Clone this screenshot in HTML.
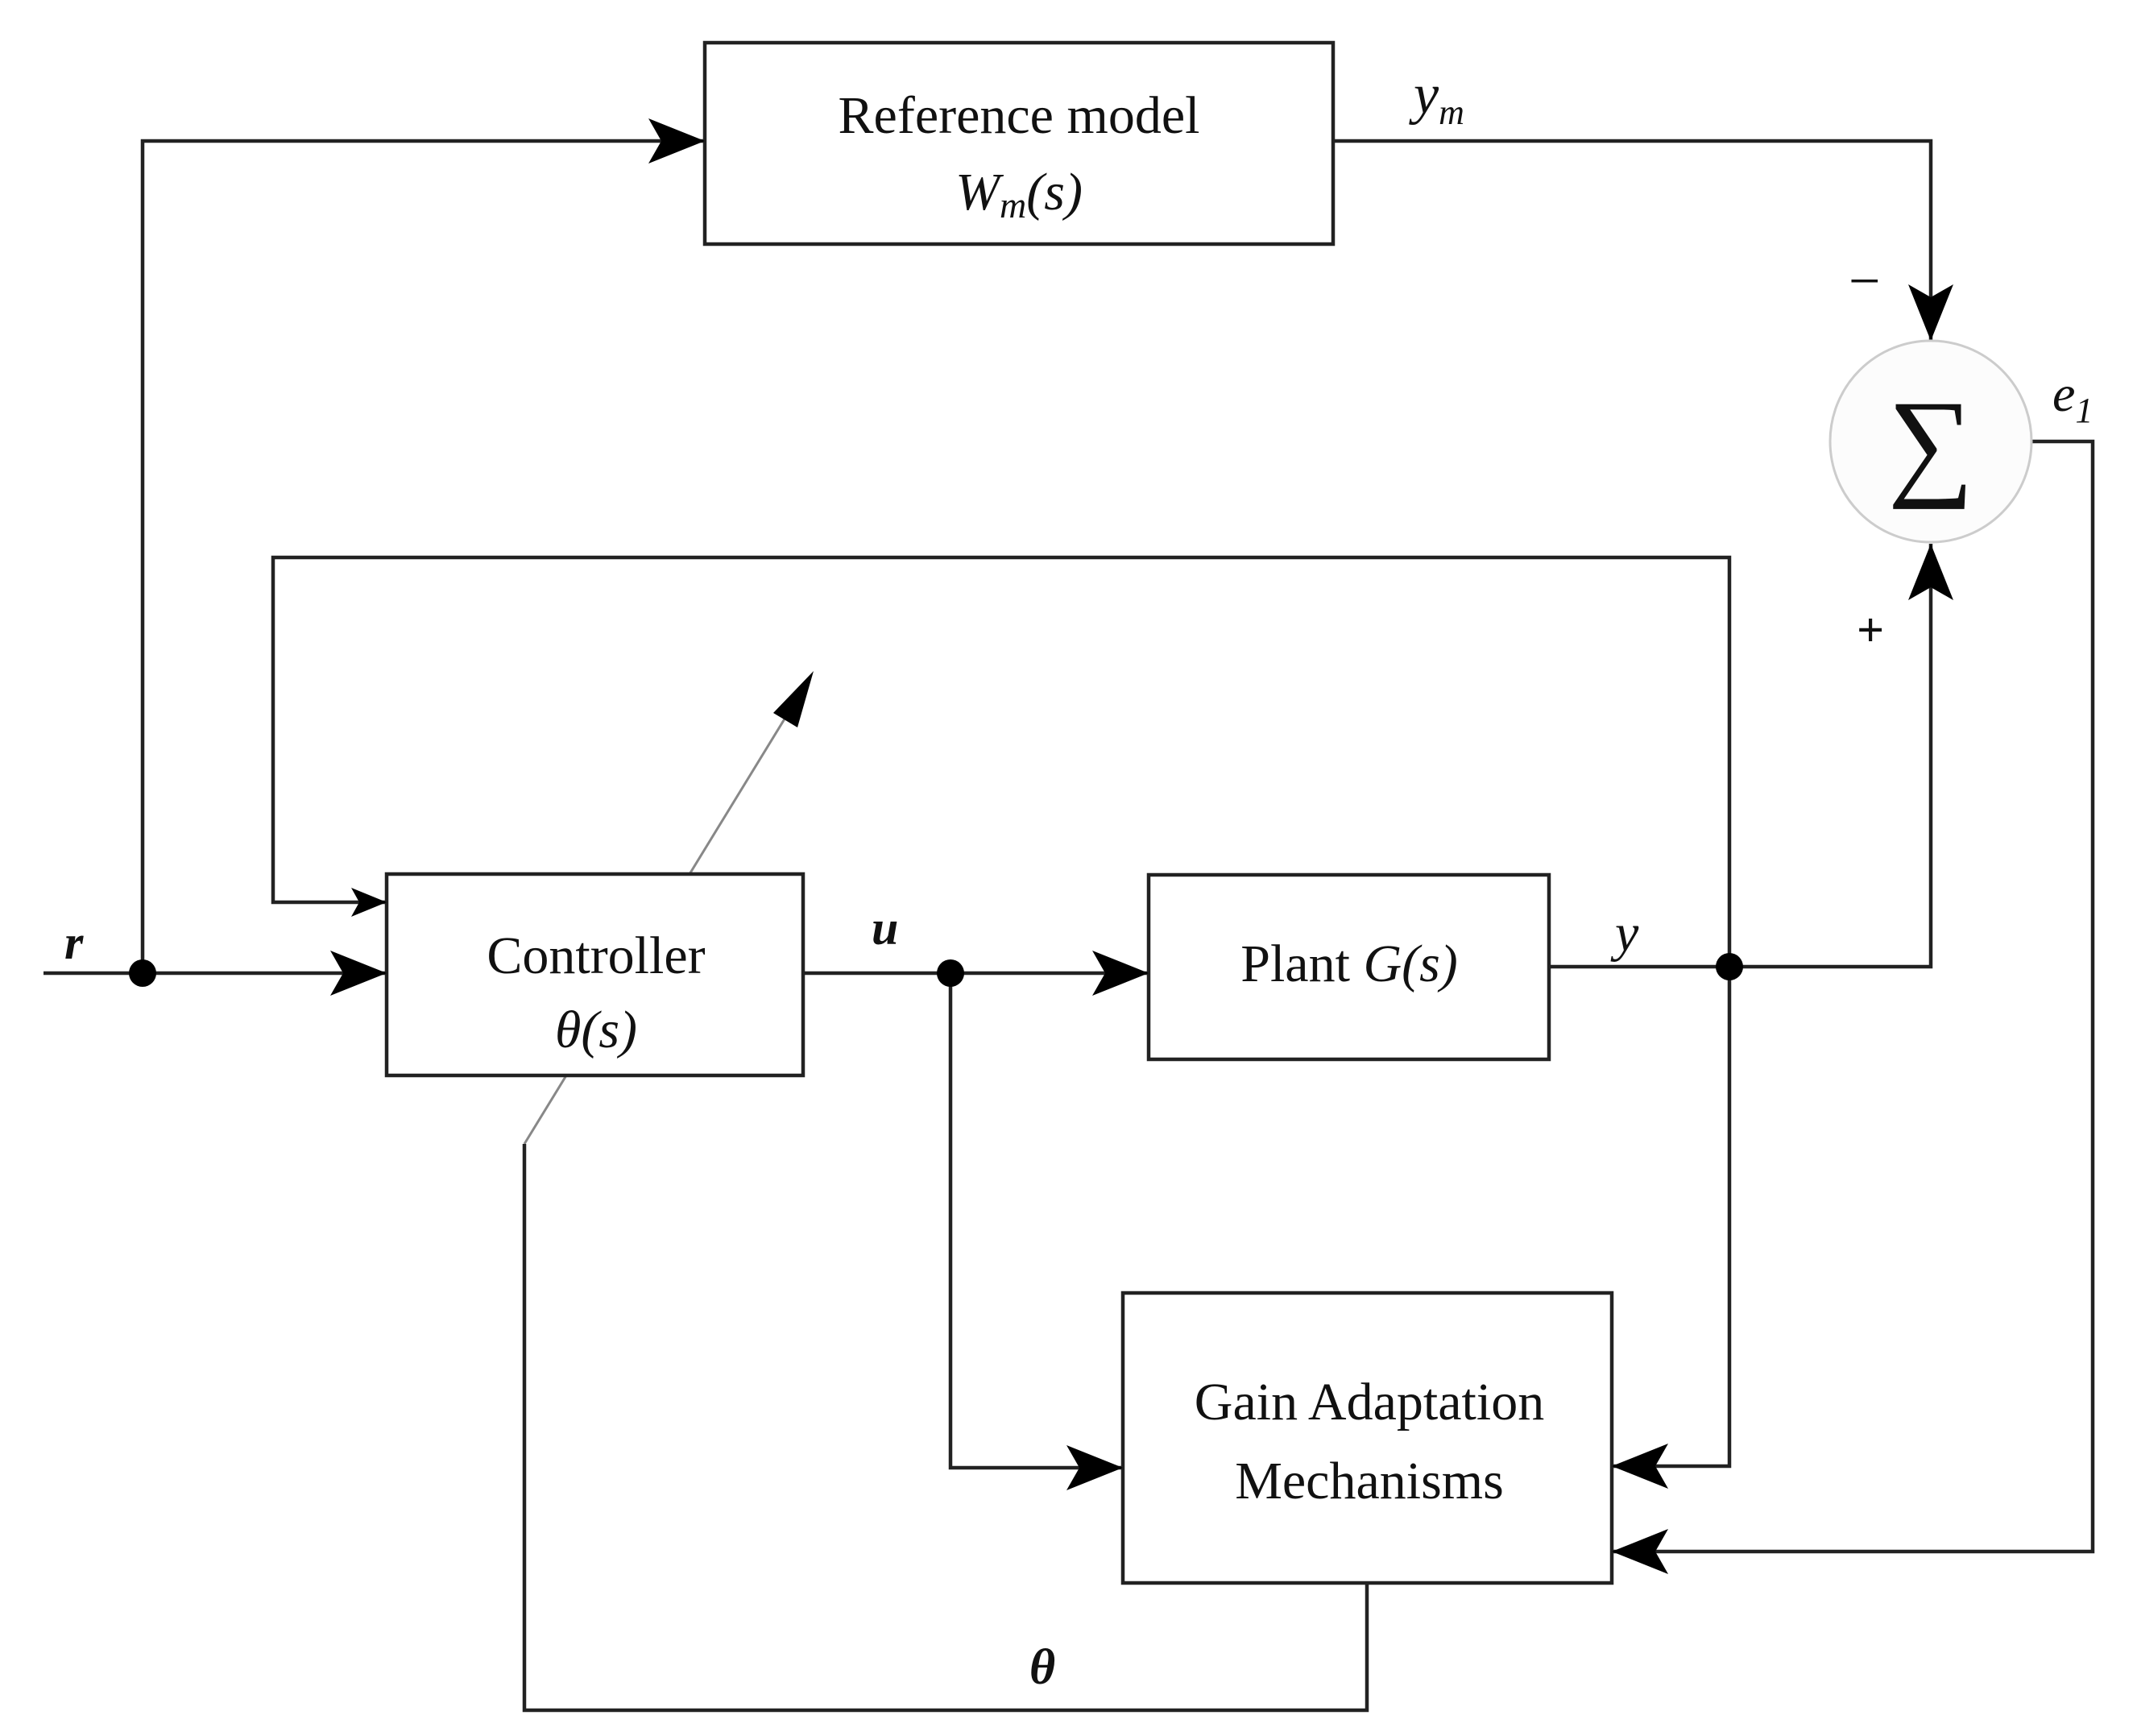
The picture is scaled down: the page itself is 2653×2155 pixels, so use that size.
<!DOCTYPE html>
<html><head><meta charset="utf-8"><style>
html,body{margin:0;padding:0;background:#fff;}
svg{display:block;}
text{font-family:"Liberation Serif",serif;fill:#111;}
</style></head><body>
<svg width="2653" height="2155" viewBox="0 0 2653 2155" xmlns="http://www.w3.org/2000/svg">
<defs>
<marker id="a" markerUnits="userSpaceOnUse" markerWidth="80" markerHeight="60" refX="70" refY="28" orient="auto">
<path d="M0,0 L70,28 L0,56 L16,28 Z" fill="#000"/>
</marker>
<marker id="s" markerUnits="userSpaceOnUse" markerWidth="50" markerHeight="40" refX="44" refY="18" orient="auto">
<path d="M0,0 L44,18 L0,36 L10,18 Z" fill="#000"/>
</marker>
</defs>
<line x1="651" y1="1420" x2="1000" y2="850" stroke="#888" stroke-width="3"/>
<path d="M1010,833 L960,885 L990,903 Z" fill="#000"/>
<g fill="none" stroke="#222" stroke-width="4.5">
<rect x="875" y="53" width="780" height="250" fill="#fff"/>
<rect x="480" y="1085" width="517" height="250" fill="#fff"/>
<rect x="1426" y="1086" width="497" height="229" fill="#fff"/>
<rect x="1394" y="1605" width="607" height="360" fill="#fff"/>
<line x1="54" y1="1208" x2="480" y2="1208" marker-end="url(#a)"/>
<polyline points="177,1208 177,175 875,175" marker-end="url(#a)"/>
<polyline points="1655,175 2397,175 2397,423" marker-end="url(#a)"/>
<polyline points="2147,1200 2147,692 339,692 339,1120 480,1120" marker-end="url(#s)"/>
<line x1="997" y1="1208" x2="1426" y2="1208" marker-end="url(#a)"/>
<polyline points="1180,1208 1180,1822 1394,1822" marker-end="url(#a)"/>
<polyline points="1923,1200 2397,1200 2397,675" marker-end="url(#a)"/>
<polyline points="2147,1200 2147,1820 2001,1820" marker-end="url(#a)"/>
<polyline points="2508,548 2598,548 2598,1926 2001,1926" marker-end="url(#a)"/>
<polyline points="1697,1965 1697,2123 651,2123 651,1420"/>
</g>
<circle cx="2397" cy="548" r="125" fill="#fcfcfc" stroke="#ccc" stroke-width="3"/>
<text x="2397" y="600" font-size="150" text-anchor="middle">∑</text>
<circle cx="177" cy="1208" r="17" fill="#000"/>
<circle cx="1180" cy="1208" r="17" fill="#000"/>
<circle cx="2147" cy="1200" r="17" fill="#000"/>
<text x="1265" y="165" font-size="66" text-anchor="middle">Reference model</text>
<text x="1265" y="260" font-size="66" text-anchor="middle" font-style="italic">W<tspan font-size="46" dy="10">m</tspan><tspan dy="-10">(s)</tspan></text>
<text x="740" y="1208" font-size="66" text-anchor="middle">Controller</text>
<text x="740" y="1300" font-size="66" text-anchor="middle" font-style="italic">θ(s)</text>
<text x="1675" y="1218" font-size="66" text-anchor="middle">Plant <tspan font-style="italic">G(s)</tspan></text>
<text x="1700" y="1762" font-size="66" text-anchor="middle">Gain Adaptation</text>
<text x="1700" y="1860" font-size="66" text-anchor="middle">Mechanisms</text>
<text x="80" y="1190" font-size="60" font-style="italic" font-weight="bold">r</text>
<text x="1082" y="1172" font-size="60" font-style="italic" font-weight="bold">u</text>
<text x="2005" y="1180" font-size="66" font-style="italic">y</text>
<text x="1755" y="140" font-size="70" font-style="italic">y<tspan font-size="44" dy="14">m</tspan></text>
<text x="2548" y="510" font-size="64" font-style="italic">e<tspan font-size="44" dy="14">1</tspan></text>
<text x="2295" y="372" font-size="70">−</text>
<text x="2305" y="802" font-size="60" font-weight="bold">+</text>
<text x="1278" y="2090" font-size="62" font-style="italic" font-weight="bold" font-family="Liberation Sans, sans-serif">θ</text>
</svg>
</body></html>
